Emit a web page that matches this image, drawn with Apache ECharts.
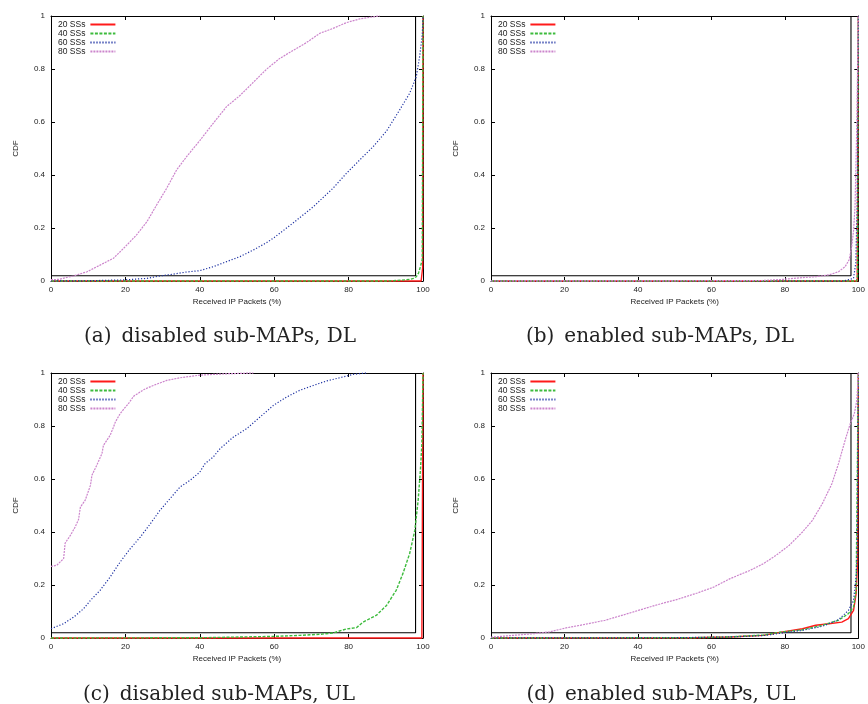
<!DOCTYPE html>
<html>
<head>
<meta charset="utf-8">
<script src="https://cdn.jsdelivr.net/npm/echarts@6/dist/echarts.min.js"></script>
<style>
  html, body { margin: 0; padding: 0; background: #fff; }
  #chart { width: 868px; height: 704px; }
</style>
</head>
<body>
<div id="chart"></div>
<script>
// Received-packet CDFs, [received %, CDF] pairs per scenario and station count.
const seriesNames = ['20 SSs', '40 SSs', '60 SSs', '80 SSs'];
const xTicks = [0, 20, 40, 60, 80, 100];
const yTicks = [0, 0.2, 0.4, 0.6, 0.8, 1];

// (a) disabled sub-MAPs, DL
const dlOff20 = [[0, 0], [99.5, 0], [99.9, 0.05], [100, 1]];
const dlOff40 = [[0, 0], [90, 0], [92, 0.001], [94, 0.003], [96.4, 0.006], [97.5, 0.01], [98.2, 0.016], [98.8, 0.03], [99.3, 0.054], [99.8, 0.08], [100, 1]];
const dlOff60 = [[0, 0], [10, 0.001], [19.5, 0.004], [25.8, 0.01], [29.3, 0.019], [32.9, 0.026], [36.5, 0.034], [40, 0.039], [43.6, 0.054], [47.2, 0.073], [50.8, 0.092], [54.4, 0.117], [58, 0.145], [60, 0.164], [65, 0.218], [70.5, 0.28], [75.8, 0.35], [79.4, 0.406], [83, 0.457], [86.6, 0.507], [90.2, 0.566], [93.7, 0.645], [96.4, 0.708], [98.2, 0.771], [99.1, 0.847], [99.8, 0.93], [100, 1]];
const dlOff80 = [[0, 0.005], [2, 0.006], [6, 0.019], [9.7, 0.035], [13.2, 0.06], [16.8, 0.086], [20, 0.13], [23, 0.174], [25.8, 0.224], [28.4, 0.287], [31.1, 0.35], [33.8, 0.42], [36.5, 0.47], [40, 0.53], [43.6, 0.595], [47.2, 0.658], [50.8, 0.7], [54.4, 0.75], [58, 0.8], [61.5, 0.84], [65.1, 0.87], [68.7, 0.9], [72.3, 0.935], [75.8, 0.953], [79.4, 0.975], [83, 0.989], [86.6, 0.997], [88.4, 1]];

// (b) enabled sub-MAPs, DL
const dlOn20 = [[0, 0], [99.7, 0], [100, 1]];
const dlOn40 = [[0, 0], [99.5, 0], [99.8, 0.02], [100, 1]];
const dlOn60 = [[0, 0], [96, 0], [98.7, 0.01], [99.3, 0.067], [99.7, 0.3], [100, 1]];
const dlOn80 = [[0, 0], [60, 0.001], [74, 0.002], [79.4, 0.006], [84.8, 0.013], [88.4, 0.016], [92, 0.023], [94.6, 0.035], [96.4, 0.054], [97.5, 0.08], [98.2, 0.13], [98.7, 0.19], [99.1, 0.28], [99.5, 0.53], [99.8, 0.81], [100, 1]];

// (c) disabled sub-MAPs, UL
const ulOff20 = [[0, 0], [99.7, 0], [100, 1]];
const ulOff40 = [[0, 0], [40, 0.001], [59.8, 0.006], [66.9, 0.01], [72.3, 0.014], [75.8, 0.019], [79.4, 0.034], [82.1, 0.039], [83.9, 0.06], [87.5, 0.086], [90.2, 0.123], [92.8, 0.18], [94.6, 0.243], [96.4, 0.318], [97.8, 0.406], [98.7, 0.52], [99.3, 0.633], [99.7, 0.733], [100, 1]];
const ulOff60 = [[0, 0.035], [3.4, 0.054], [6.1, 0.079], [8.8, 0.111], [10.6, 0.142], [13.2, 0.18], [15.9, 0.23], [18.6, 0.287], [21.3, 0.337], [24, 0.381], [26.7, 0.431], [29.3, 0.482], [32, 0.526], [34.7, 0.57], [37.4, 0.595], [40, 0.626], [41.4, 0.658], [43.6, 0.683], [45.4, 0.714], [49, 0.758], [52.6, 0.79], [56.2, 0.834], [59.8, 0.878], [63.3, 0.909], [66.9, 0.935], [70.5, 0.953], [74.1, 0.97], [77.6, 0.982], [81.2, 0.995], [84.8, 1]];
const ulOff80 = [[0, 0.27], [1.6, 0.275], [3.4, 0.3], [3.8, 0.358], [5.2, 0.387], [6.5, 0.419], [7.4, 0.447], [7.9, 0.494], [9.2, 0.52], [10.6, 0.576], [11, 0.614], [12.3, 0.652], [13.7, 0.696], [14.1, 0.727], [15.9, 0.765], [16.8, 0.796], [17.3, 0.815], [18.6, 0.847], [19.7, 0.866], [20.8, 0.884], [22.2, 0.912], [24.9, 0.937], [27.5, 0.953], [31.1, 0.972], [34.7, 0.982], [40, 0.992], [47.2, 0.997], [54.4, 1]];

// (d) enabled sub-MAPs, UL
const ulOn20 = [[0, 0], [55, 0.001], [65.1, 0.004], [74.1, 0.01], [79.4, 0.023], [84.8, 0.035], [88.4, 0.048], [92, 0.054], [95.5, 0.06], [97.3, 0.073], [98.7, 0.104], [99.4, 0.167], [99.8, 0.29], [100, 1]];
const ulOn40 = [[0, 0], [55, 0.001], [65, 0.004], [74.1, 0.011], [79.4, 0.023], [84.8, 0.031], [90.2, 0.048], [94.6, 0.067], [97.3, 0.092], [98.7, 0.117], [99.4, 0.18], [100, 1]];
const ulOn60 = [[0, 0], [50, 0.001], [65, 0.004], [74.1, 0.009], [79.4, 0.019], [84.8, 0.029], [90.2, 0.044], [94.6, 0.069], [97.3, 0.104], [98.7, 0.142], [99.4, 0.23], [99.7, 0.318], [100, 1]];
const ulOn80 = [[0, 0.003], [5.2, 0.009], [11.4, 0.016], [15.9, 0.023], [20.4, 0.038], [25.8, 0.052], [31.1, 0.067], [36.5, 0.089], [40.1, 0.104], [45.4, 0.126], [50.8, 0.146], [56.2, 0.17], [60.6, 0.192], [65.1, 0.224], [70.5, 0.255], [74.1, 0.28], [77.6, 0.312], [81.2, 0.35], [84.8, 0.4], [87.5, 0.444], [90.2, 0.507], [92.8, 0.582], [94.6, 0.658], [96.4, 0.746], [97.8, 0.809], [98.9, 0.846], [99.6, 0.897], [100, 1]];

// Outline of the low-CDF region (x < 98, CDF > 0.02) drawn in every panel.
const regionOutline = [[0, 0.02], [98, 0.02], [98, 1]];

const captions = [
  '(a)\u2002disabled sub-MAPs, DL',
  '(b)\u2002enabled sub-MAPs, DL',
  '(c)\u2002disabled sub-MAPs, UL',
  '(d)\u2002enabled sub-MAPs, UL'
];
const panelData = [
  [dlOff20, dlOff40, dlOff60, dlOff80],
  [dlOn20, dlOn40, dlOn60, dlOn80],
  [ulOff20, ulOff40, ulOff60, ulOff80],
  [ulOn20, ulOn40, ulOn60, ulOn80]
];

const panels = [
  { left: 51, top: 16, width: 372, cx: 220, cy: 337 },
  { left: 491, top: 16, width: 373, cx: 660, cy: 337 },
  { left: 51, top: 373, width: 372, cx: 219, cy: 695 },
  { left: 491, top: 373, width: 373, cx: 661, cy: 695 }
];
const plotHeight = 265;

const lineStyles = [
  { color: '#ff1a1a', width: 1.4, type: 'solid' },
  { color: '#3dbb3d', width: 1.4, type: [3, 1.5] },
  { color: '#1f33a3', width: 1.2, type: [1.2, 1.8] },
  { color: '#cc85cc', width: 1.2, type: [2, 1] }
];

const sansFont = 'Liberation Sans, Arial, sans-serif';
const grid = [], xAxis = [], yAxis = [], series = [], legend = [], graphic = [];

panels.forEach((p, i) => {
  grid.push({ left: p.left, top: p.top, width: p.width, height: plotHeight, containLabel: false });

  const tickCommon = { show: true, inside: true, length: 4, lineStyle: { color: '#000', width: 1 } };
  const lineCommon = { show: true, onZero: false, lineStyle: { color: '#000', width: 1 } };
  // bottom x axis with labels, top mirror
  xAxis.push({
    gridIndex: i, type: 'value', min: xTicks[0], max: xTicks[xTicks.length - 1], interval: 20,
    position: 'bottom', axisLine: lineCommon, axisTick: tickCommon, splitLine: { show: false },
    axisLabel: { margin: 5, fontSize: 8, fontFamily: sansFont, color: '#222' },
    name: 'Received IP Packets (%)', nameLocation: 'middle', nameGap: 17,
    nameTextStyle: { fontSize: 8, fontFamily: sansFont, color: '#222' }
  });
  xAxis.push({
    gridIndex: i, type: 'value', min: 0, max: 100, interval: 20, position: 'top',
    axisLine: lineCommon, axisTick: tickCommon, axisLabel: { show: false }, splitLine: { show: false }
  });
  yAxis.push({
    gridIndex: i, type: 'value', min: yTicks[0], max: yTicks[yTicks.length - 1], interval: 0.2,
    position: 'left', axisLine: lineCommon, axisTick: tickCommon, splitLine: { show: false },
    axisLabel: { margin: 6, fontSize: 8, fontFamily: sansFont, color: '#222' },
    name: 'CDF', nameLocation: 'middle', nameGap: 31,
    nameTextStyle: { fontSize: 8, fontFamily: sansFont, color: '#222' }
  });
  yAxis.push({
    gridIndex: i, type: 'value', min: 0, max: 1, interval: 0.2, position: 'right',
    axisLine: lineCommon, axisTick: tickCommon, axisLabel: { show: false }, splitLine: { show: false }
  });

  series.push({
    type: 'line', name: 'outline', xAxisIndex: 2 * i, yAxisIndex: 2 * i,
    data: regionOutline, symbol: 'none', silent: true, clip: false, z: 3,
    lineStyle: { color: '#000', width: 1.1 }
  });
  panelData[i].forEach((d, k) => {
    series.push({
      type: 'line', name: seriesNames[k], xAxisIndex: 2 * i, yAxisIndex: 2 * i,
      data: d, symbol: 'none', clip: false, z: 4 + k,
      lineStyle: lineStyles[k], itemStyle: { color: lineStyles[k].color }
    });
  });

  legend.push({
    orient: 'vertical', left: p.left + 7, top: p.top + 4, align: 'right',
    itemWidth: 25, itemHeight: 7, itemGap: 0, padding: 0, selectedMode: false,
    data: seriesNames,
    itemStyle: { opacity: 0 },
    textStyle: { fontSize: 8.5, lineHeight: 8.6, fontFamily: sansFont, color: '#222' }
  });

  graphic.push({
    type: 'text', x: p.cx, y: p.cy,
    style: {
      text: captions[i], align: 'center', verticalAlign: 'middle',
      font: '20px "DejaVu Serif", serif', fill: '#222'
    }
  });
});

const chart = echarts.init(document.getElementById('chart'), null, { renderer: 'canvas' });
chart.setOption({
  animation: false,
  backgroundColor: '#fff',
  grid, xAxis, yAxis, series, legend, graphic
});
</script>
</body>
</html>
